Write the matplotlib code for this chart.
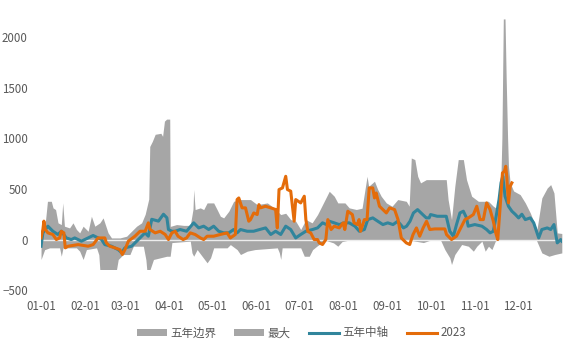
import matplotlib
matplotlib.use('Agg')
import matplotlib.pyplot as plt
import numpy as np

plt.rcParams['font.family'] = ['Noto Sans CJK SC', 'DejaVu Sans']

# day of year (0 = 01-01) and values for each series
hi_days = [0, 2.5, 4.5, 7.2, 8.4, 10.2, 11.9, 14.2, 15.2, 16.4, 20, 22.4, 24.8, 27.1, 29.5,
           33, 35.3, 37.7, 41.2, 43.5, 47, 49.4, 55.3, 60, 62.3, 67, 70.5, 73, 75.5, 76.2,
           78, 80, 84, 85.2, 86.5, 88, 90.2, 90.6, 95, 100, 104.6, 106.5, 107, 108, 111.6,
           114, 116.4, 121, 123.4, 125.7, 128, 131.6, 135, 139.8, 146.8, 151.5, 158.6,
           163.3, 168, 171.5, 175, 178.5, 182, 185.6, 190, 193.8, 197.3, 202, 205.5, 208,
           213, 216, 221, 225, 228.5, 229.6, 233.7, 236, 238.4, 242, 246, 250, 256, 258,
           259.5, 262, 264, 266, 270, 284, 285.3, 287.7, 290, 292.4, 296, 298.2, 301.8,
           306.5, 313.5, 317, 320.5, 322.4, 323, 323.5, 324, 325.2, 326, 327, 327.6, 328.8,
           331.2, 335.8, 339.4, 342.9, 347.6, 351, 354.8, 357.2, 359.5, 361.8, 365]
hi_vals = [50, 100, 378, 378, 313, 296, 165, 148, 362, 132, 115, 165, 100, 66, 132,
           82, 230, 132, 165, 214, 66, 16, 16, 33, 66, 132, 165, 250, 400, 920,
           970, 1040, 1050, 1020, 1170, 1190, 1190, 130, 148, 140, 140, 300, 494, 296, 313,
           296, 362, 362, 296, 230, 214, 280, 378, 395, 395, 345, 362,
           313, 247, 260, 197, 181, 99, 197, 165, 247, 345, 477, 428, 362,
           362, 313, 297, 310, 625, 526, 576, 494, 428, 362, 329, 395, 378, 330,
           806, 790, 625, 560, 592, 592, 395, 197, 526, 790, 790, 592, 428,
           378, 378, 329, 296, 658, 1000, 1600, 2180, 2180, 1600, 1000, 724, 560,
           480, 444, 362, 263, 99, 411, 510, 543, 460, 66, 60]

lo_days = [0, 2.5, 6, 13, 14.2, 15.4, 24.8, 27.1, 29.5, 31.8, 38.9, 40.5, 41.2, 52.9, 54.1,
           57.6, 62.3, 64.7, 71.7, 73.5, 74.1, 76.4, 78.8, 88.1, 90.5, 91.7, 104.6, 105.8,
           107, 109.4, 112.9, 116.4, 118.8, 121, 130.4, 132.7, 137.4, 139.8, 144.5, 150,
           165.6, 167, 168, 169, 182, 184.5, 188, 190.3, 193.8, 197, 200, 205, 208, 211,
           216, 240, 258, 268, 272, 280, 283, 286.5, 287.7, 290, 294.8, 299.5, 303, 305.4,
           309, 311.3, 313.6, 316, 318.4, 320, 347, 349, 351, 356, 360, 365]
lo_vals = [-197, -100, -82, -82, -165, -82, -82, -115, -197, -99, -82, -150, -296, -296, -197,
           -148, -148, -66, -66, -200, -296, -296, -197, -165, -165, -30, -16, -132,
           -165, -99, -165, -230, -181, -82, -82, -50, -99, -148, -115, -99,
           -82, -130, -197, -82, -82, -165, -165, -100, -60, -30, -10, -33, -66, -20,
           -5, 0, -5, -30, -10, -5, -99, -181, -247, -148, -49, -66, -115, -66,
           -16, -115, -66, -99, -16, 0, 0, -66, -132, -165, -148, -132]

mid_days = [0, 1.3, 4.8, 8.3, 11.8, 14.2, 17.7, 21.2, 23.6, 28.3, 33, 36.5, 40, 42.4, 44.7,
            49.4, 54.1, 56.5, 58.8, 63.5, 68.2, 72.9, 75.2, 77.6, 82.3, 85.8, 88.2, 89.3,
            91.7, 94, 97.5, 102, 107, 110.5, 114, 117.5, 121, 124.5, 128, 131.6, 135,
            137.4, 139.8, 144.5, 149, 153.2, 157.4, 161, 164.4, 168, 171.5, 175, 178.5,
            182, 185.6, 190.3, 193.8, 197.3, 200, 202, 205.5, 209, 212.5, 216, 220, 223.1,
            226.6, 229, 232.5, 236, 239.6, 243, 246.7, 250, 254, 256.2, 258.6, 261, 263.9,
            267.5, 270, 272, 273, 277.7, 284, 286.5, 289, 291.2, 293.6, 296, 298.2, 299.4,
            304, 309, 312.3, 314.7, 317, 319.4, 321, 322.4, 323.6, 325.2, 327.6, 330,
            332.3, 334.7, 337, 339.4, 342.9, 345.3, 348.8, 351, 354.8, 357.2, 359.5,
            361.8, 364.2, 365]
mid_vals = [-66, 66, 132, 82, 50, 82, 16, 0, 16, -16, 16, 40, 16, 0, -50,
            -66, -100, -130, -82, -66, 0, 66, 33, 200, 182, 250, 215, 99,
            82, 82, 99, 82, 165, 115, 132, 99, 132, 82, 66, 66, 99,
            66, 99, 82, 82, 99, 115, 50, 82, 50, 132, 99, 16,
            50, 82, 99, 115, 165, 148, 181, 165, 148, 165, 165, 132, 82,
            99, 197, 214, 181, 148, 165, 148, 181, 115, 132, 181, 263, 296,
            247, 214, 214, 247, 230, 230, 82, 33, 148, 263, 280, 214, 132,
            148, 132, 99, 66, 82, 263, 395, 560, 625, 428, 329, 280,
            250, 214, 250, 197, 214, 165, 16, 99, 115, 99, 148,
            -33, 0, -16]

y23_days = [0, 1.3, 2, 3, 4.8, 8.3, 10.7, 13, 14.2, 16, 17, 18.9, 26, 33, 36.5, 40, 44.7,
            45.8, 48.2, 51.7, 55.3, 57, 58.8, 61.2, 65.8, 69.4, 73, 75.2, 76.4, 80, 83.5,
            87, 89.3, 91.7, 94, 96, 99.6, 102, 104.6, 108, 111.7, 114, 116.4, 121, 125.6,
            130.4, 132.7, 136.2, 137.4, 138.6, 140.9, 143.3, 145.6, 146.8, 149.1, 151.5,
            152.7, 153.8, 157.3, 161, 164.4, 165.6, 166.8, 169.2, 171.5, 172.7, 175, 177.4,
            178.5, 182, 184.5, 185.6, 187, 189, 191.4, 193.8, 195, 197.3, 199.6, 201, 203.3,
            205.5, 209, 211.7, 212.9, 215, 218.2, 219.4, 221.7, 222.9, 224, 226.6, 228.5,
            230, 232.5, 233.7, 234.9, 237.2, 239.6, 242, 244.3, 247.8, 250.2, 252.5, 256,
            258.4, 260.7, 263.1, 265.4, 267.8, 270.2, 272.5, 276, 283, 284.2, 287.7, 291.2,
            293.6, 297.1, 299.5, 303, 305.4, 307.7, 310, 312.3, 314.7, 317, 318.7, 320.1,
            321.8, 323.4, 324.8, 325.7, 326.4, 327.6, 328.8, 330]
y23_vals = [16, 99, 182, 99, 66, 50, 0, 16, 82, 66, -82, -66, -50, -66, -50, 16, 16,
            -33, -66, -82, -100, -148, -100, -16, 33, 82, 82, 165, 99, 66, 82,
            50, 0, 66, 82, 33, 0, 16, 66, 50, 16, 0, 33, 33, 50,
            66, 16, 50, 395, 411, 313, 313, 181, 197, 263, 247,
            345, 313, 329, 313, 297, 115, 494, 510, 625, 494, 478, 181,
            395, 362, 428, 197, 80, 66, 0, 0, -33, -49, 0, 197, 99,
            132, 115, 165, 99, 280, 247, 165, 148, 197, 82, 197, 197,
            510, 510, 411, 460, 329, 296, 263, 313, 296, 197, 16, -33,
            -49, 49, 115, 33, 115, 181, 99, 105, 105, 49, 0, 33,
            99, 197, 214, 247, 329, 197, 197, 362, 296, 181, 66, 0,
            329, 658, 675, 724, 625, 362, 526, 560]

month_days = [0, 31, 59, 90, 120, 151, 181, 212, 243, 273, 304, 334]
month_labels = ['01-01', '02-01', '03-01', '04-01', '05-01', '06-01',
                '07-01', '08-01', '09-01', '10-01', '11-01', '12-01']
y_ticks = [-500, 0, 500, 1000, 1500, 2000]

gray = '#a6a6a6'
teal = '#31859c'
orange = '#e46c0a'
txt = '#595959'

fig = plt.figure(figsize=(5.78, 3.45), dpi=100)
ax = fig.add_axes([0.071, 0.159, 0.901, 0.792])

# stacked band: lower bound area and upper bound area, same gray
ax.fill_between(lo_days, lo_vals, 0, color=gray, lw=0, label='五年边界')
ax.fill_between(hi_days, 0, hi_vals, color=gray, lw=0, label='最大')
ax.axhline(0, color='#ececec', lw=1, zorder=2)
ax.plot(mid_days, mid_vals, color=teal, lw=2.2, label='五年中轴', zorder=3)
ax.plot(y23_days, y23_vals, color=orange, lw=2.2, label='2023', zorder=4)

ax.set_xlim(0, 365)
ax.set_ylim(-500, 2200)
ax.set_xticks(month_days)
ax.set_xticklabels(month_labels)
ax.set_yticks(y_ticks)
ax.tick_params(length=0, labelsize=8.3, labelcolor=txt)
ax.tick_params(axis='y', pad=9.5)
ax.tick_params(axis='x', pad=7)
for s in ax.spines.values():
    s.set_visible(False)

leg = ax.legend(loc='upper center', bbox_to_anchor=(0.5, -0.095), ncol=4, frameon=False,
                fontsize=8.3, handlelength=2.6, handleheight=0.5, columnspacing=1.6,
                handletextpad=0.3)
for t in leg.get_texts():
    t.set_color(txt)

fig.savefig('out.png', dpi=100)
